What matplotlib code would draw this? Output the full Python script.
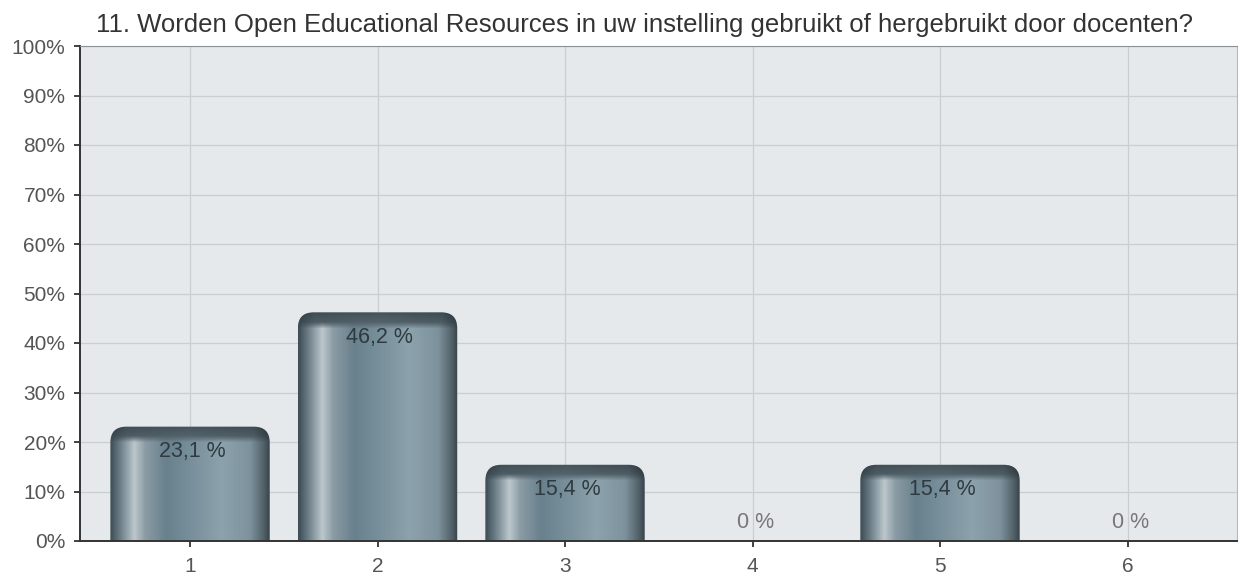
import numpy as np
import matplotlib.pyplot as plt
from matplotlib.patches import FancyBboxPatch
from matplotlib.colors import LinearSegmentedColormap

plt.rcParams['font.family'] = ['Liberation Sans', 'DejaVu Sans']

# data
categories = ['1', '2', '3', '4', '5', '6']
values = [23.1, 46.2, 15.4, 0, 15.4, 0]
labels = ['23,1 %', '46,2 %', '15,4 %', '0 %', '15,4 %', '0 %']
title = '11. Worden Open Educational Resources in uw instelling gebruikt of hergebruikt door docenten?'

fig = plt.figure(figsize=(12.4, 5.76), dpi=100)
ax = fig.add_axes([80/1240, 35/576, 1157/1240, 495/576])
ax.set_facecolor('#e6e9ec')

x = np.arange(1, len(categories) + 1)
width = 0.85
ax.set_xlim(0.413, 6.584)
ax.set_ylim(0, 100)
ypx = 495 / 100.0  # pixels per percent

# cylinder-like gradient for the bars
cmap = LinearSegmentedColormap.from_list('bar', [
    (0.0, '#3e4d56'), (0.06, '#6b7d87'), (0.15, '#bcc7cc'), (0.22, '#8a9ba4'),
    (0.35, '#68818d'), (0.7, '#8ca2ad'), (0.88, '#7d929c'), (0.96, '#55646c'), (1.0, '#3a464d')])
cap_cmap = LinearSegmentedColormap.from_list('cap', [
    (0.0, '#3f4e56'), (0.1, '#55666f'), (0.5, '#5d6e77'), (0.9, '#55656e'), (1.0, '#3a464d')])
hx = np.linspace(0, 1, 200)
bars = ax.bar(x, values, width=width, color='none', edgecolor='none', zorder=2)
for b, v in zip(bars, values):
    if v <= 0:
        continue
    x0 = b.get_x()
    body = cmap(hx)[:, :3]
    cap = cap_cmap(hx)[:, :3]
    n = 200
    bar_px = v * ypx
    yy = np.linspace(1, 0, n) * bar_px  # height of each row in px
    cap_px = 16.0
    t = np.clip((yy - (bar_px - cap_px)) / cap_px, 0, 1)
    w = np.clip(t * 2.5, 0, 1)[:, None, None]
    dark = (1 - 0.25 * t)[:, None, None]
    img = (body[None] * (1 - w) + cap[None] * w) * dark
    im = ax.imshow(img, extent=(x0, x0 + width, 0, v), aspect='auto', zorder=2,
                   interpolation='bilinear')
    patch = FancyBboxPatch((x0, -10), width, v + 10,
                           boxstyle='round,pad=0,rounding_size=0.085',
                           mutation_aspect=3.2 / 0.085,
                           transform=ax.transData, facecolor='none', edgecolor='none')
    ax.add_patch(patch)
    im.set_clip_path(patch)

for xi, v, lab in zip(x, values, labels):
    if v > 0:
        ax.text(xi + 0.01, v - 5, lab, ha='center', va='center', fontsize=15.5, color='#2f3a40', zorder=3)
    else:
        ax.text(xi + 0.016, 3.7, lab, ha='center', va='center', fontsize=15.5, color='#777777', zorder=3)

ax.set_xticks(x)
ax.set_xticklabels(categories)
ax.set_yticks(np.arange(0, 101, 10))
ax.set_yticklabels([f'{t}%' for t in range(0, 101, 10)])
ax.tick_params(axis='both', direction='out', length=4.5, width=1.3, color='#333333',
               labelsize=15, labelcolor='#555555')
ax.tick_params(axis='y', pad=6)
ax.tick_params(axis='x', pad=7)
ax.grid(True, color='#c9ced2', linewidth=0.9, zorder=0)
ax.set_axisbelow(True)

for s in ['left', 'bottom']:
    ax.spines[s].set_color('#333333')
    ax.spines[s].set_linewidth(1.4)
ax.spines['top'].set_color('#8a9094')
ax.spines['right'].set_color('#b5babd')

fig.text(645/1240, 1 - 32/576, title, ha='center', va='baseline', fontsize=18.5, color='#333333')

fig.savefig('out.png', dpi=100)
